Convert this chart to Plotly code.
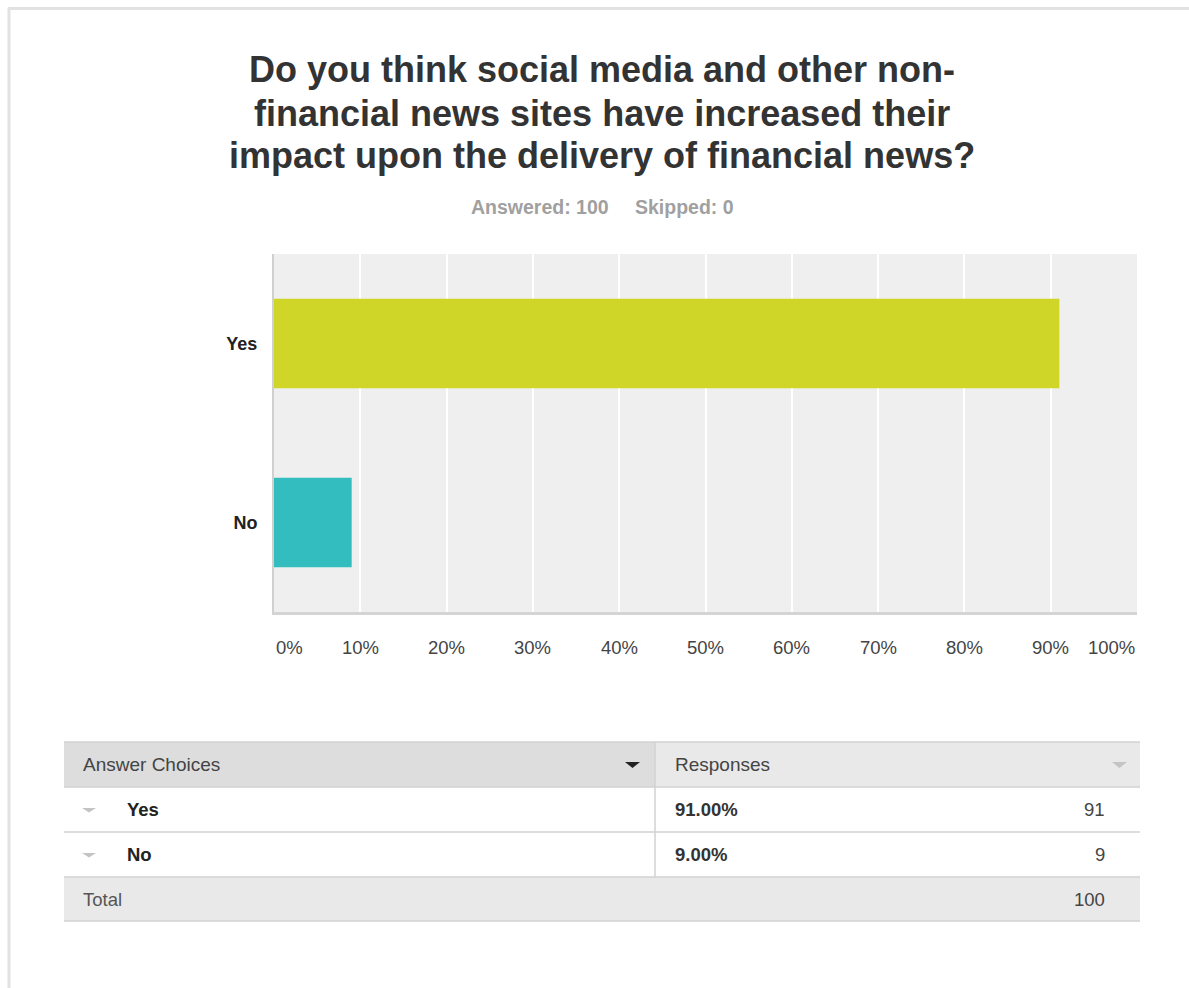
import plotly.graph_objects as go

# Survey question and answers
question_lines = [
    "Do you think social media and other non-",
    "financial news sites have increased their",
    "impact upon the delivery of financial news?",
]
answered = 100
skipped = 0
choices = ["Yes", "No"]
percents = [91.0, 9.0]
counts = [91, 9]
total = 100
tick_values = [0, 10, 20, 30, 40, 50, 60, 70, 80, 90, 100]
tick_labels = [f"{v}%" for v in tick_values]
bar_colors = ["#CFD627", "#33BDBE"]

W, H = 1189, 988
FONT = "Liberation Sans, Arial, sans-serif"


def px(x):
    return x / W


def py(y):
    return 1 - y / H


fig = go.Figure()
fig.add_trace(go.Bar(
    x=percents, y=choices, orientation="h", width=0.5,
    marker=dict(color=bar_colors, line=dict(width=0)),
    hoverinfo="skip",
))

shapes = []
annotations = []


def label(text, x, y, size, color, anchor="left", xref="paper"):
    annotations.append(dict(text=text, x=x, y=y, xref=xref, yref="paper",
                            xanchor=anchor, yanchor="middle", showarrow=False,
                            font=dict(family=FONT, size=size, color=color)))


# page frame
shapes.append(dict(type="line", xref="paper", yref="paper", x0=px(8), x1=1.0, y0=py(8.5), y1=py(8.5),
                   line=dict(color="#E2E2E2", width=3)))
shapes.append(dict(type="line", xref="paper", yref="paper", x0=px(9), x1=px(9), y0=py(8), y1=0,
                   line=dict(color="#E2E2E2", width=3)))

# title, one annotation per line
for line, yc in zip(question_lines, [70, 113, 155]):
    label(f"<b>{line}</b>", px(602), py(yc), 36, "#333333", anchor="center")

# answered / skipped summary
label(f"<b>Answered: {answered}</b>", px(540), py(207), 19.5, "#A0A0A0", anchor="center")
label(f"<b>Skipped: {skipped}</b>", px(684), py(207), 19.5, "#A0A0A0", anchor="center")

# x tick labels: outer ones kept inside the plot span
for v, lab in zip(tick_values, tick_labels):
    anchor = "left" if v == tick_values[0] else ("right" if v == tick_values[-1] else "center")
    label(lab, v, py(647), 18.5, "#444444", anchor=anchor, xref="x")

# response table
TL, TR, TM = 64, 1140, 655
rows_y = [742, 787, 832, 877, 921]
shapes.append(dict(type="rect", xref="paper", yref="paper", x0=px(TL), x1=px(TM), y0=py(rows_y[0]), y1=py(rows_y[1]),
                   fillcolor="#DDDDDD", line=dict(width=0), layer="below"))
shapes.append(dict(type="rect", xref="paper", yref="paper", x0=px(TM), x1=px(TR), y0=py(rows_y[0]), y1=py(rows_y[1]),
                   fillcolor="#E9E9E9", line=dict(width=0), layer="below"))
shapes.append(dict(type="rect", xref="paper", yref="paper", x0=px(TL), x1=px(TR), y0=py(rows_y[3]), y1=py(rows_y[4]),
                   fillcolor="#E9E9E9", line=dict(width=0), layer="below"))
for yy in rows_y:
    shapes.append(dict(type="line", xref="paper", yref="paper", x0=px(TL), x1=px(TR), y0=py(yy), y1=py(yy),
                       line=dict(color="#D2D2D2", width=1.5)))
shapes.append(dict(type="line", xref="paper", yref="paper", x0=px(TM), x1=px(TM), y0=py(rows_y[0]), y1=py(rows_y[3]),
                   line=dict(color="#D2D2D2", width=1.5)))


def tri(x0, x1, y0, y1, color):
    path = f"M {px(x0)} {py(y0)} L {px(x1)} {py(y0)} L {px((x0 + x1) / 2)} {py(y1)} Z"
    return dict(type="path", xref="paper", yref="paper", path=path, fillcolor=color, line=dict(width=0))


shapes.append(tri(625, 640, 762, 768, "#222222"))
shapes.append(tri(1112, 1127, 762, 768, "#C4C4C4"))

header_mid = (rows_y[0] + rows_y[1]) / 2
label("Answer Choices", px(81), py(header_mid), 19, "#444444")
label("Responses", px(673), py(header_mid), 19, "#444444")

for i, (c, p, n) in enumerate(zip(choices, percents, counts)):
    mid = (rows_y[i + 1] + rows_y[i + 2]) / 2
    shapes.append(tri(82, 96, mid - 1.5, mid + 3, "#C4C4C4"))
    label(f"<b>{c}</b>", px(125), py(mid), 18.5, "#222222")
    label(f"<b>{p:.2f}%</b>", px(673), py(mid), 18.5, "#333333")
    label(f"{n}", px(1107), py(mid), 18.5, "#444444", anchor="right")

total_mid = (rows_y[3] + rows_y[4]) / 2
label("Total", px(81), py(total_mid), 18.5, "#555555")
label(f"{total}", px(1107), py(total_mid), 18.5, "#444444", anchor="right")

fig.update_layout(
    width=W, height=H,
    margin=dict(l=0, r=0, t=0, b=0),
    paper_bgcolor="white",
    plot_bgcolor="#EFEFEF",
    showlegend=False,
    shapes=shapes,
    annotations=annotations,
    xaxis=dict(domain=[px(274), px(1137)], range=[0, 100], tickvals=tick_values, showticklabels=False,
               showgrid=True, gridcolor="white", gridwidth=2, zeroline=False,
               showline=True, linecolor="#D4D4D4", linewidth=3, fixedrange=True),
    yaxis=dict(domain=[py(612), py(254)], range=[1.5, -0.5], categoryorder="array", categoryarray=choices,
               showgrid=False, zeroline=False, showline=True, linecolor="#D0D0D0", linewidth=2,
               ticks="", ticklabelstandoff=11, tickprefix="<b>", ticksuffix="</b>",
               tickfont=dict(family=FONT, size=18, color="#222222"), fixedrange=True),
    font=dict(family=FONT),
)

fig.write_html("out.html", config={"displayModeBar": False})
